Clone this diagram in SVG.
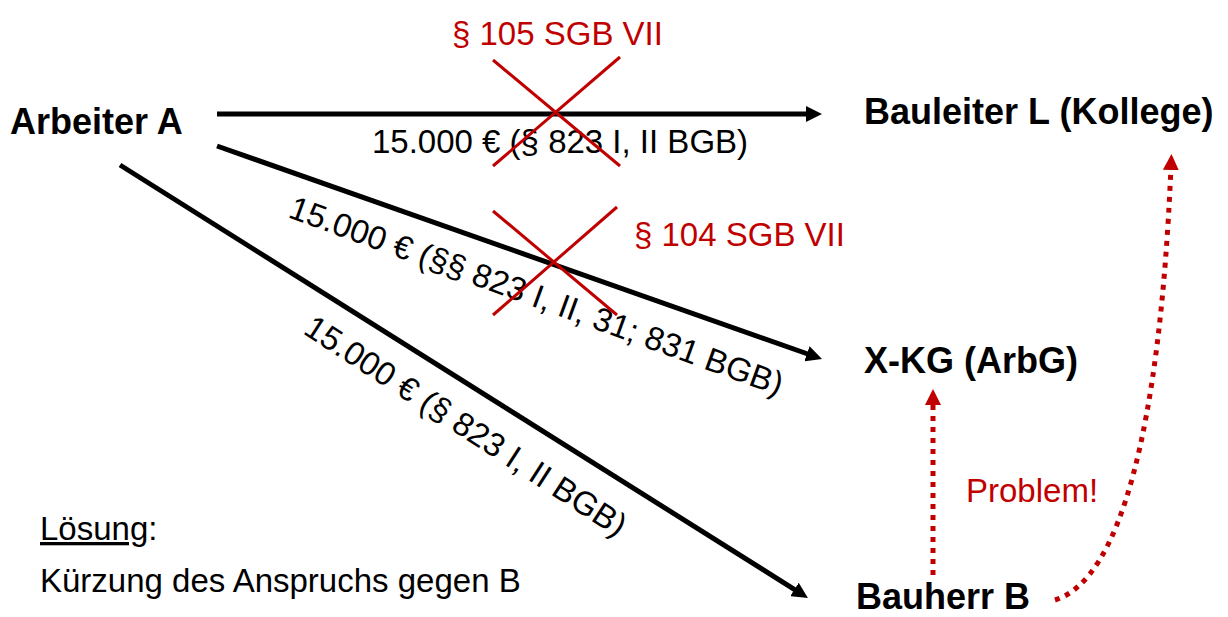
<svg xmlns="http://www.w3.org/2000/svg" width="1228" height="617" viewBox="0 0 1228 617">
<style>
text{font-family:"Liberation Sans",Arial,sans-serif;}
.node{font-size:36px;font-weight:bold;fill:#000;}
.lbl{font-size:33px;fill:#000;}
.red{font-size:33px;fill:#C00000;}
.arr{stroke:#000;stroke-width:5;fill:none;}
.dot{stroke:#C00000;stroke-width:5;fill:none;stroke-dasharray:5 6;}
.x{stroke:#C00000;stroke-width:3;}
</style>
<defs>
<marker id="ah" markerUnits="userSpaceOnUse" markerWidth="16" markerHeight="16" refX="4" refY="8" orient="auto" viewBox="0 0 16 16">
<path d="M0,0 L16,8 L0,16 z" fill="#000"/>
</marker>
<marker id="ahr" markerUnits="userSpaceOnUse" markerWidth="16" markerHeight="16" refX="4" refY="8" orient="auto" viewBox="0 0 16 16">
<path d="M0,0 L16,8 L0,16 z" fill="#C00000"/>
</marker>
</defs>
<rect width="1228" height="617" fill="#fff"/>
<g id="connectors">
<line class="arr" x1="217" y1="114" x2="810" y2="114" marker-end="url(#ah)"/>
<line class="arr" x1="217" y1="146" x2="810.7" y2="355" marker-end="url(#ah)"/>
<line class="arr" x1="120" y1="165" x2="797.8" y2="591.6" marker-end="url(#ah)"/>
<line class="dot" x1="933" y1="575" x2="933" y2="401" marker-end="url(#ahr)"/>
<path class="dot" d="M1055,600 C1120,580 1160,430 1171,166" marker-end="url(#ahr)"/>
</g>
<g id="labels">
<text class="lbl" x="372" y="153">15.000 € (§ 823 I, II BGB)</text>
<text class="lbl" transform="translate(287,217) rotate(20)">15.000 € (§§ 823 I, II, 31; 831 BGB)</text>
<text class="lbl" transform="translate(302,333) rotate(33)">15.000 € (§ 823 I, II BGB)</text>
</g>
<g id="cross-105">
<line class="x" x1="493" y1="60" x2="620" y2="166"/>
<line class="x" x1="493" y1="166" x2="620" y2="57"/>
<text class="red" x="452" y="45">§ 105 SGB VII</text>
</g>
<g id="cross-104">
<line class="x" x1="493" y1="211" x2="617" y2="315"/>
<line class="x" x1="493" y1="315" x2="617" y2="207"/>
<text class="red" x="634" y="246">§ 104 SGB VII</text>
</g>
<g id="node-arbeiter"><text class="node" x="10" y="134">Arbeiter A</text></g>
<g id="node-bauleiter"><text class="node" x="864" y="124">Bauleiter L (Kollege)</text></g>
<g id="node-xkg"><text class="node" x="864" y="373">X-KG (ArbG)</text></g>
<g id="node-bauherr"><text class="node" x="856" y="609">Bauherr B</text></g>
<g id="problem"><text class="red" x="966" y="502">Problem!</text></g>
<g id="loesung">
<text class="lbl" x="40" y="540"><tspan text-decoration="underline">Lösung</tspan>:</text>
<text class="lbl" x="40" y="592">Kürzung des Anspruchs gegen B</text>
</g>
</svg>
